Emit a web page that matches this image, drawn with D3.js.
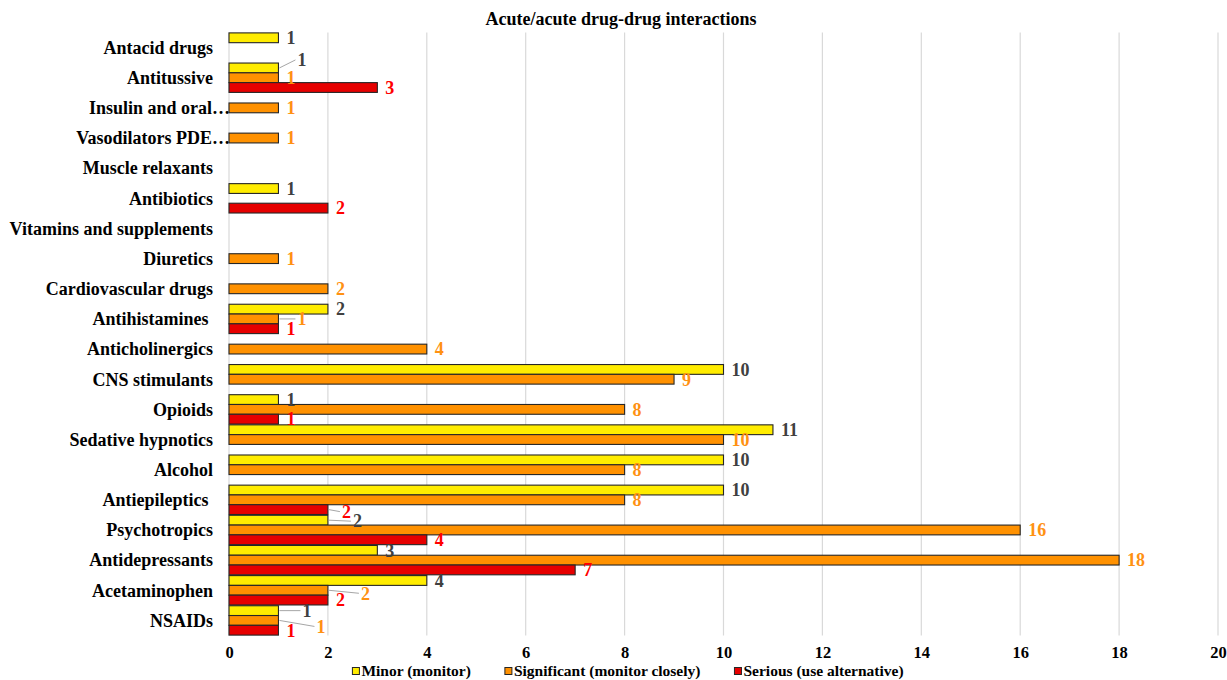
<!DOCTYPE html>
<html>
<head>
<meta charset="utf-8">
<script src="https://cdn.jsdelivr.net/npm/d3@7"></script>
<style>
  html, body { margin: 0; padding: 0; background: #fff; }
  svg { display: block; font-family: "Liberation Serif", "Times New Roman", serif; }
  .cat { white-space: pre; }
</style>
</head>
<body>
<svg id="chart" width="1227" height="680"></svg>
<script>
// Drug classes, listed bottom to top
const categories = [
  "NSAIDs", "Acetaminophen", "Antidepressants", "Psychotropics", "Antiepileptics ",
  "Alcohol", "Sedative hypnotics", "Opioids", "CNS stimulants", "Anticholinergics",
  "Antihistamines ", "Cardiovascular drugs", "Diuretics", "Vitamins and supplements",
  "Antibiotics", "Muscle relaxants", "Vasodilators PDE…", "Insulin and oral…",
  "Antitussive", "Antacid drugs"
];

// Interaction counts per severity (null = none reported)
const minor       = [1, 4, 3, 2, 10, 10, 11, 1, 10, null, 2, null, null, null, 1, null, null, null, 1, 1];
const significant = [1, 2, 18, 16, 8, 8, 10, 8, 9, 4, 1, 2, 1, null, null, null, 1, 1, 1, null];
const serious     = [1, 2, 7, 4, 2, null, null, 1, null, null, 1, null, null, null, 2, null, null, null, 3, null];

const seriesNames = ["Minor (monitor)", "Significant (monitor closely)", "Serious (use alternative)"];
const xTicks = [0, 2, 4, 6, 8, 10, 12, 14, 16, 18, 20];
const title = "Acute/acute drug-drug interactions";

const seriesValues = [minor, significant, serious];
const barColors = ["#FFEC00", "#FF9100", "#E60000"];
const labelColors = ["#404040", "#FF9112", "#FF0000"];

// Labels moved off their default spot to avoid collisions (pixel nudges, with leader lines)
const labelNudges = {
  "Antitussive|0": [11, -8],
  "Antihistamines |1": [11, 0],
  "Antiepileptics |2": [6, 2],
  "Psychotropics|0": [17, 1],
  "Acetaminophen|1": [25, 3],
  "NSAIDs|0": [16, 0],
  "NSAIDs|1": [30, 6]
};

const svg = d3.select("#chart");

const x = d3.scaleLinear().domain([0, 20]).range([229, 1218]);
const y = d3.scaleBand()
  .domain(categories.slice().reverse())
  .range([32.5, 635.5])
  .paddingInner(0)
  .paddingOuter(0);
const ySub = d3.scaleBand()
  .domain([0, 1, 2])
  .range([0, y.bandwidth()])
  .paddingInner(0)
  .paddingOuter(0.04);

// Title
svg.append("text")
  .attr("x", 621).attr("y", 19)
  .attr("text-anchor", "middle")
  .attr("dominant-baseline", "central")
  .attr("font-weight", "bold")
  .attr("font-size", 18)
  .attr("fill", "#000")
  .text(title);

// Vertical gridlines
svg.append("g")
  .selectAll("line")
  .data(xTicks)
  .join("line")
  .attr("x1", d => x(d)).attr("x2", d => x(d))
  .attr("y1", 32.5).attr("y2", 635.5)
  .attr("stroke", "#d9d9d9")
  .attr("stroke-width", 1.2);

// X axis tick labels
const xAxis = d3.axisBottom(x).tickValues(xTicks).tickSize(0).tickPadding(0);
const xg = svg.append("g").attr("transform", "translate(0,646)").call(xAxis);
xg.select(".domain").remove();
xg.selectAll("text")
  .attr("font-family", "Liberation Serif, Times New Roman, serif")
  .attr("font-weight", "bold")
  .attr("font-size", 16.5)
  .attr("fill", "#000");

// Category labels
svg.append("g")
  .selectAll("text")
  .data(categories)
  .join("text")
  .attr("class", "cat")
  .attr("x", d => d.endsWith("…") ? 230 : 213)
  .attr("y", d => y(d) + y.bandwidth() / 2)
  .attr("dy", "0.35em")
  .attr("text-anchor", "end")
  .attr("font-weight", "bold")
  .attr("font-size", 18)
  .attr("fill", "#000")
  .text(d => d);

// Flatten into one record per bar
const bars = [];
categories.forEach((c, i) => {
  seriesValues.forEach((vals, s) => {
    const v = vals[i];
    if (v != null) bars.push({ cat: c, s, v });
  });
});

// Bars
svg.append("g")
  .selectAll("rect")
  .data(bars)
  .join("rect")
  .attr("x", x(0))
  .attr("y", d => y(d.cat) + ySub(d.s))
  .attr("width", d => x(d.v) - x(0))
  .attr("height", ySub.bandwidth())
  .attr("fill", d => barColors[d.s])
  .attr("stroke", "#262626")
  .attr("stroke-width", 1.1);

// Value labels and leader lines
const labelFont = 18;
const lg = svg.append("g");
bars.forEach(d => {
  const cy = y(d.cat) + ySub(d.s) + ySub.bandwidth() / 2;
  const nudge = labelNudges[d.cat + "|" + d.s] || [0, 0];
  const lx = x(d.v) + 8 + nudge[0];
  const ly = cy + nudge[1];
  if (nudge[0] !== 0 || nudge[1] !== 0) {
    lg.append("line")
      .attr("x1", x(d.v) + 1).attr("y1", cy)
      .attr("x2", lx - 2).attr("y2", ly)
      .attr("stroke", "#a6a6a6")
      .attr("stroke-width", 1);
  }
  lg.append("text")
    .attr("x", lx)
    .attr("y", ly)
    .attr("dy", "0.35em")
    .attr("font-weight", "bold")
    .attr("font-size", labelFont)
    .attr("fill", labelColors[d.s])
    .text(d.v);
});

// Legend
const legend = svg.append("g");
let cursor = 0;
seriesNames.forEach((name, s) => {
  const g = legend.append("g");
  g.append("rect")
    .attr("x", 0).attr("y", -3.5)
    .attr("width", 7).attr("height", 7)
    .attr("fill", barColors[s])
    .attr("stroke", "#262626")
    .attr("stroke-width", 1);
  const t = g.append("text")
    .attr("x", 9).attr("y", 0)
    .attr("dy", "0.35em")
    .attr("font-weight", "bold")
    .attr("font-size", 15.5)
    .attr("fill", "#000")
    .text(name);
  const w = 9 + t.node().getComputedTextLength();
  g.attr("transform", `translate(${cursor},0)`);
  cursor += w + 34;
});
const legendWidth = cursor - 34;
legend.attr("transform", `translate(${628 - legendWidth / 2},671)`);
</script>
</body>
</html>
